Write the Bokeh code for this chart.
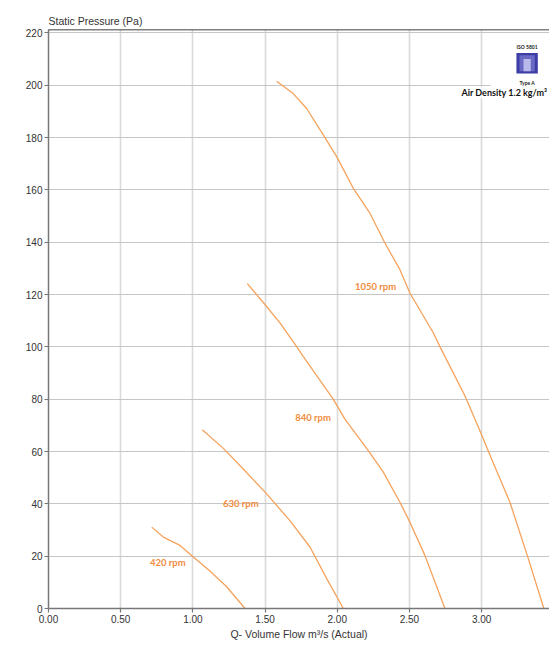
from bokeh.plotting import figure
from bokeh.models import Label, Span, SingleIntervalTicker, NumeralTickFormatter
from bokeh.embed import file_html
from bokeh.resources import INLINE
from bokeh.core.properties import value

# ---- data ----
q_1050 = [1.58, 1.695, 1.788, 1.903, 1.996, 2.111, 2.226, 2.330, 2.434, 2.503, 2.665, 2.711, 2.884, 2.988, 3.069, 3.196, 3.316, 3.431]
p_1050 = [201.5, 196.8, 191.1, 181.0, 172.7, 160.6, 151.1, 139.7, 129.5, 120.6, 105.4, 100.1, 81.3, 67.9, 57.1, 40.6, 20.3, 0.0]
q_840 = [1.377, 1.499, 1.603, 1.719, 1.765, 1.972, 2.053, 2.215, 2.319, 2.434, 2.503, 2.607, 2.746]
p_840 = [124.2, 116.2, 109.2, 100.1, 96.3, 80.0, 72.4, 60.3, 52.1, 40.6, 33.0, 20.3, 0.0]
q_630 = [1.065, 1.211, 1.349, 1.511, 1.672, 1.811, 1.927, 2.042]
p_630 = [68.3, 61.2, 53.3, 43.8, 33.6, 23.5, 11.4, 0.0]
q_420 = [0.715, 0.795, 0.911, 1.003, 1.118, 1.234, 1.361]
p_420 = [31.1, 27.3, 24.1, 19.7, 14.3, 8.3, 0.0]

curve_labels = ["1050 rpm", "840 rpm", "630 rpm", "420 rpm"]
label_q = [2.265, 1.832, 1.332, 0.826]
label_p = [123.2, 73.0, 40.0, 17.4]

x_title = "Q- Volume Flow m\u00b3/s (Actual)"
y_title = "Static Pressure (Pa)"
density_text = "Air Density 1.2 kg/m\u00b3"

X_END = 3.47
Y_END = 221.3

LINE_COLOR = "#F5A25C"
LABEL_COLOR = "#F08C3C"
TICK_FONT = "Liberation Sans"

p = figure(width=549, height=642, x_range=(0, X_END), y_range=(0, Y_END),
           output_backend="svg", toolbar_location=None,
           min_border_left=48, min_border_right=0, min_border_top=29, min_border_bottom=32)
p.outline_line_color = None
p.background_fill_color = "white"

p.title.text = y_title
p.title.align = "left"
p.title.offset = 0
p.title.standoff = 6
p.title.text_font = TICK_FONT
p.title.text_font_size = "10.5px"
p.title.text_font_style = "normal"
p.title.text_color = "#333333"

# grids
p.xgrid.grid_line_color = "#dadada"
p.xgrid.grid_line_width = 1.6
p.ygrid.grid_line_color = "#c6c6c6"
p.ygrid.grid_line_width = 1.1

# axes
p.xaxis.ticker = SingleIntervalTicker(interval=0.5, num_minor_ticks=0)
p.yaxis.ticker = SingleIntervalTicker(interval=20, num_minor_ticks=0)
p.xaxis.formatter = NumeralTickFormatter(format="0.00")
for ax in (p.xaxis, p.yaxis):
    ax.axis_line_color = "#777777"
    ax.axis_line_width = 1.5
    ax.major_tick_line_color = "#777777"
    ax.major_tick_line_width = 1.2
    ax.major_tick_out = 4
    ax.major_tick_in = 0
    ax.minor_tick_line_color = None
    ax.major_label_text_font = TICK_FONT
    ax.major_label_text_font_size = "10px"
    ax.major_label_text_color = "#333333"
p.yaxis.major_label_standoff = 2
p.xaxis.major_label_standoff = 2
p.xaxis.axis_label = x_title
p.xaxis.axis_label_text_font = TICK_FONT
p.xaxis.axis_label_text_font_size = "10.5px"
p.xaxis.axis_label_text_font_style = "normal"
p.xaxis.axis_label_text_color = "#333333"
p.xaxis.axis_label_standoff = 2

# top black border
p.add_layout(Span(location=Y_END, dimension="width", line_color="black", line_width=1.5))

# curves
for q, pr in ((q_1050, p_1050), (q_840, p_840), (q_630, p_630), (q_420, p_420)):
    p.line(q, pr, line_color=LINE_COLOR, line_width=1.3)

p.text(x=label_q, y=label_p, text=curve_labels, text_color=LABEL_COLOR,
       text_font=value("Lato"), text_font_size="9.5px", text_font_style="bold",
       text_align="center", text_baseline="middle")

# ISO logo block (top right)
p.quad(left=3.061, right=X_END, bottom=199.0, top=218.7, fill_color="white", line_color=None)
p.quad(left=3.241, right=3.389, bottom=204.5, top=212.3, fill_color="#3d3da6", line_color=None)
p.quad(left=3.262, right=3.368, bottom=205.3, top=211.5, fill_color="#6a6ac4", line_color=None)
p.quad(left=3.290, right=3.340, bottom=205.3, top=210.0, fill_color="#b9b9ec", line_color=None)
p.add_layout(Label(x=3.315, y=214.6, text="ISO 5801", text_align="center", text_baseline="middle",
                   text_font="Lato", text_font_size="5px", text_font_style="bold", text_color="#222222"))
p.add_layout(Label(x=3.315, y=200.9, text="Type A", text_align="center", text_baseline="middle",
                   text_font="Lato", text_font_size="5px", text_font_style="bold", text_color="#222222"))
p.add_layout(Label(x=2.86, y=197.1, text=density_text, text_align="left", text_baseline="middle",
                   text_font="Lato", text_font_size="9px", text_font_style="bold", text_color="#111111",
                   background_fill_color="white"))

open("out.html", "w").write(file_html(p, INLINE))
